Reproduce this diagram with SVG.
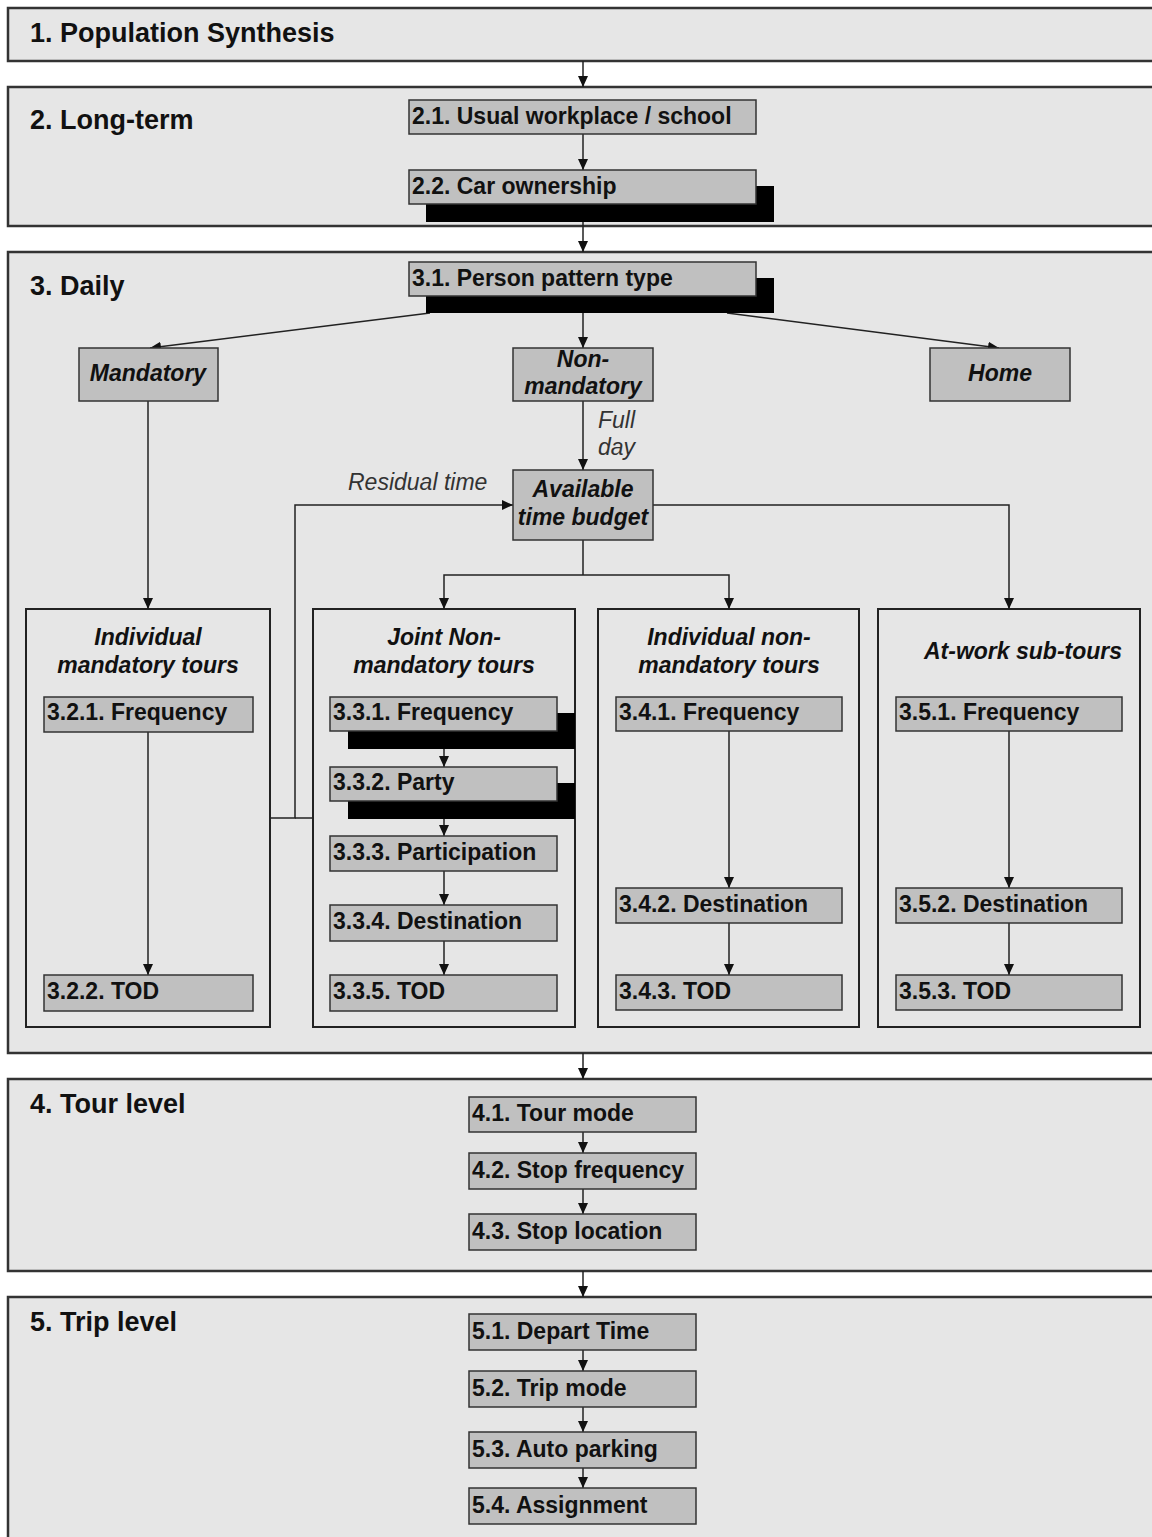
<svg xmlns="http://www.w3.org/2000/svg" width="1152" height="1537" viewBox="0 0 1152 1537">
<style>
.band{fill:#e6e6e6;stroke:#333;stroke-width:2.5}
.cont{fill:#e6e6e6;stroke:#222;stroke-width:2}
.box{fill:#c0c0c0;stroke:#333;stroke-width:1.5}
.shadow{fill:#000}
.bt{font-family:"Liberation Sans",Arial,sans-serif;font-weight:bold;font-size:27px;fill:#111}
.t{font-family:"Liberation Sans",Arial,sans-serif;font-weight:bold;font-size:23px;fill:#111}
.ti{font-family:"Liberation Sans",Arial,sans-serif;font-weight:bold;font-style:italic;font-size:23px;fill:#111;text-anchor:middle}
.lbl{font-family:"Liberation Sans",Arial,sans-serif;font-style:italic;font-size:23px;fill:#333}
.ln{fill:none;stroke:#222;stroke-width:1.5}
.ar{marker-end:url(#arr)}
</style>
<defs>
<marker id="arr" markerUnits="userSpaceOnUse" markerWidth="11" markerHeight="11" refX="11" refY="5.5" orient="auto">
<path d="M0,0.5 L11,5.5 L0,10.5 z" fill="#111"/>
</marker>
</defs>
<rect width="1152" height="1537" fill="#fff"/>

<g id="band1"><rect class="band" x="8" y="8" width="1160" height="53"/><text class="bt" x="30" y="42">1. Population Synthesis</text></g>
<g id="band2"><rect class="band" x="8" y="87" width="1160" height="139"/><text class="bt" x="30" y="129">2. Long-term</text></g>
<g id="band3"><rect class="band" x="8" y="252" width="1160" height="801"/><text class="bt" x="30" y="295">3. Daily</text></g>
<g id="band4"><rect class="band" x="8" y="1079" width="1160" height="192"/><text class="bt" x="30" y="1113">4. Tour level</text></g>
<g id="band5"><rect class="band" x="8" y="1297" width="1160" height="260"/><text class="bt" x="30" y="1331">5. Trip level</text></g>

<g id="cont-ind-mand"><rect class="cont" x="26" y="609" width="244" height="418"/><text class="ti" x="148" y="645">Individual</text><text class="ti" x="148" y="673">mandatory tours</text></g>
<g id="cont-joint"><rect class="cont" x="313" y="609" width="262" height="418"/><text class="ti" x="444" y="645">Joint Non-</text><text class="ti" x="444" y="673">mandatory tours</text></g>
<g id="cont-ind-nonmand"><rect class="cont" x="598" y="609" width="261" height="418"/><text class="ti" x="729" y="645">Individual non-</text><text class="ti" x="729" y="673">mandatory tours</text></g>
<g id="cont-atwork"><rect class="cont" x="878" y="609" width="262" height="418"/><text class="ti" x="924" y="659" style="text-anchor:start">At-work sub-tours</text></g>

<g id="connectors">
<line class="ln ar" x1="583" y1="61" x2="583" y2="87"/>
<line class="ln ar" x1="583" y1="134" x2="583" y2="170"/>
<line class="ln ar" x1="583" y1="204" x2="583" y2="252"/>
<line class="ln ar" x1="430" y1="313" x2="150" y2="348"/>
<line class="ln ar" x1="583" y1="296" x2="583" y2="348"/>
<line class="ln ar" x1="727" y1="313" x2="999" y2="348"/>
<line class="ln ar" x1="148" y1="401" x2="148" y2="609"/>
<line class="ln ar" x1="583" y1="401" x2="583" y2="470"/>
<polyline class="ln ar" points="270,818 295,818 295,505 513,505"/>
<line class="ln" x1="295" y1="818" x2="313" y2="818"/>
<line class="ln" x1="583" y1="540" x2="583" y2="575"/>
<polyline class="ln ar" points="583,575 444,575 444,609"/>
<polyline class="ln ar" points="583,575 729,575 729,609"/>
<polyline class="ln ar" points="653,505 1009,505 1009,609"/>
<line class="ln ar" x1="148" y1="732" x2="148" y2="975"/>
<line class="ln ar" x1="444" y1="749" x2="444" y2="767"/>
<line class="ln ar" x1="444" y1="819" x2="444" y2="836"/>
<line class="ln ar" x1="444" y1="871" x2="444" y2="905"/>
<line class="ln ar" x1="444" y1="941" x2="444" y2="975"/>
<line class="ln ar" x1="729" y1="731" x2="729" y2="888"/>
<line class="ln ar" x1="729" y1="923" x2="729" y2="975"/>
<line class="ln ar" x1="1009" y1="731" x2="1009" y2="888"/>
<line class="ln ar" x1="1009" y1="923" x2="1009" y2="975"/>
<line class="ln ar" x1="583" y1="1053" x2="583" y2="1079"/>
<line class="ln ar" x1="583" y1="1132" x2="583" y2="1153"/>
<line class="ln ar" x1="583" y1="1189" x2="583" y2="1214"/>
<line class="ln ar" x1="583" y1="1271" x2="583" y2="1297"/>
<line class="ln ar" x1="583" y1="1350" x2="583" y2="1371"/>
<line class="ln ar" x1="583" y1="1407" x2="583" y2="1432"/>
<line class="ln ar" x1="583" y1="1468" x2="583" y2="1488"/>
<text class="lbl" x="598" y="428">Full</text>
<text class="lbl" x="598" y="455">day</text>
<text class="lbl" x="348" y="490">Residual time</text>
</g>

<g id="n21"><rect class="box" x="409" y="100" width="347" height="34"/><text class="t" x="412" y="124">2.1. Usual workplace / school</text></g>
<g id="n22"><rect class="shadow" x="426" y="186" width="348" height="36"/><rect class="box" x="409" y="170" width="347" height="34"/><text class="t" x="412" y="194">2.2. Car ownership</text></g>
<g id="n31"><rect class="shadow" x="426" y="278" width="348" height="35"/><rect class="box" x="409" y="262" width="347" height="34"/><text class="t" x="412" y="286">3.1. Person pattern type</text></g>
<g id="mandatory"><rect class="box" x="79" y="348" width="139" height="53"/><text class="ti" x="148" y="381">Mandatory</text></g>
<g id="nonmandatory"><rect class="box" x="513" y="348" width="140" height="53"/><text class="ti" x="583" y="367">Non-</text><text class="ti" x="583" y="394">mandatory</text></g>
<g id="home"><rect class="box" x="930" y="348" width="140" height="53"/><text class="ti" x="1000" y="381">Home</text></g>
<g id="budget"><rect class="box" x="513" y="470" width="140" height="70"/><text class="ti" x="583" y="497">Available</text><text class="ti" x="583" y="525">time budget</text></g>

<g id="n321"><rect class="box" x="44" y="697" width="209" height="35"/><text class="t" x="47" y="720">3.2.1. Frequency</text></g>
<g id="n322"><rect class="box" x="44" y="975" width="209" height="36"/><text class="t" x="47" y="999">3.2.2. TOD</text></g>

<g id="n331"><rect class="shadow" x="348" y="713" width="227" height="36"/><rect class="box" x="330" y="697" width="227" height="34"/><text class="t" x="333" y="720">3.3.1. Frequency</text></g>
<g id="n332"><rect class="shadow" x="348" y="783" width="227" height="36"/><rect class="box" x="330" y="767" width="227" height="34"/><text class="t" x="333" y="790">3.3.2. Party</text></g>
<g id="n333"><rect class="box" x="330" y="836" width="227" height="35"/><text class="t" x="333" y="860">3.3.3. Participation</text></g>
<g id="n334"><rect class="box" x="330" y="905" width="227" height="36"/><text class="t" x="333" y="929">3.3.4. Destination</text></g>
<g id="n335"><rect class="box" x="330" y="975" width="227" height="36"/><text class="t" x="333" y="999">3.3.5. TOD</text></g>

<g id="n341"><rect class="box" x="616" y="697" width="226" height="34"/><text class="t" x="619" y="720">3.4.1. Frequency</text></g>
<g id="n342"><rect class="box" x="616" y="888" width="226" height="35"/><text class="t" x="619" y="912">3.4.2. Destination</text></g>
<g id="n343"><rect class="box" x="616" y="975" width="226" height="35"/><text class="t" x="619" y="999">3.4.3. TOD</text></g>

<g id="n351"><rect class="box" x="896" y="697" width="226" height="34"/><text class="t" x="899" y="720">3.5.1. Frequency</text></g>
<g id="n352"><rect class="box" x="896" y="888" width="226" height="35"/><text class="t" x="899" y="912">3.5.2. Destination</text></g>
<g id="n353"><rect class="box" x="896" y="975" width="226" height="35"/><text class="t" x="899" y="999">3.5.3. TOD</text></g>

<g id="n41"><rect class="box" x="469" y="1097" width="227" height="35"/><text class="t" x="472" y="1121">4.1. Tour mode</text></g>
<g id="n42"><rect class="box" x="469" y="1153" width="227" height="36"/><text class="t" x="472" y="1178">4.2. Stop frequency</text></g>
<g id="n43"><rect class="box" x="469" y="1214" width="227" height="36"/><text class="t" x="472" y="1239">4.3. Stop location</text></g>

<g id="n51"><rect class="box" x="469" y="1314" width="227" height="36"/><text class="t" x="472" y="1339">5.1. Depart Time</text></g>
<g id="n52"><rect class="box" x="469" y="1371" width="227" height="36"/><text class="t" x="472" y="1396">5.2. Trip mode</text></g>
<g id="n53"><rect class="box" x="469" y="1432" width="227" height="36"/><text class="t" x="472" y="1457">5.3. Auto parking</text></g>
<g id="n54"><rect class="box" x="469" y="1488" width="227" height="36"/><text class="t" x="472" y="1513">5.4. Assignment</text></g>
</svg>
